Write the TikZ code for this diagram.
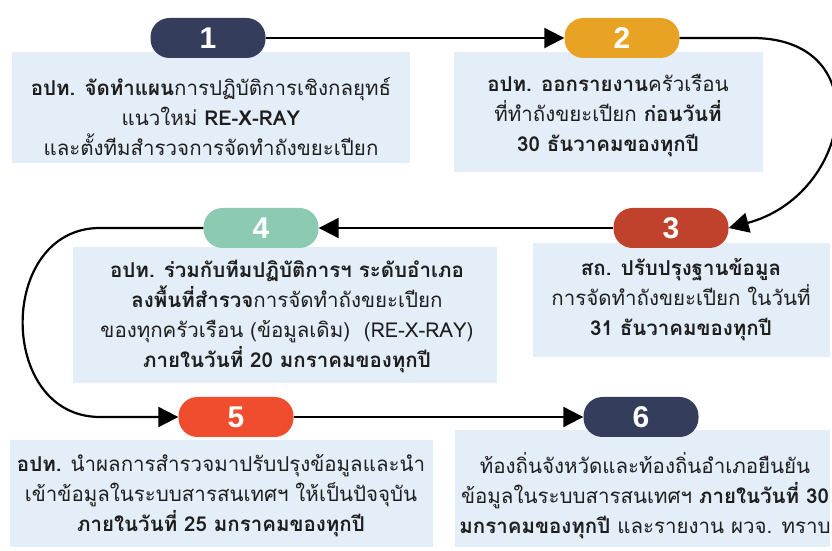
\documentclass[tikz,border=0pt]{standalone}
\usepackage{fontspec}
\setmainfont[Script=Thai]{Loma}
\newfontfamily\numfont{Liberation Sans}
\usetikzlibrary{arrows.meta}
\definecolor{cardblue}{RGB}{228,238,248}
\definecolor{navy}{RGB}{52,61,92}
\definecolor{amber}{RGB}{233,163,36}
\definecolor{rust}{RGB}{192,66,44}
\definecolor{mint}{RGB}{140,202,178}
\definecolor{flame}{RGB}{240,76,46}
\definecolor{ink}{RGB}{30,30,30}
\tikzset{
  pill/.style={rectangle,rounded corners=19pt,minimum width=115pt,minimum height=40pt,
    inner sep=0pt,text=white,font=\numfont\bfseries\fontsize{30}{30}\selectfont},
  card/.style={fill=cardblue,inner sep=0pt},
  txt/.style={align=center,inner sep=0pt,text=ink,font=\fontsize{20.5}{30}\selectfont},
  flow/.style={line width=2.2pt,-{Triangle[length=20pt,width=20pt]}}
}

\begin{document}
\begin{tikzpicture}[x=1pt,y=1pt]
    \useasboundingbox (0,0) rectangle (832,551);

    % cards
    \node[card,minimum width=398pt,minimum height=111pt] (b1) at (211,443.5) {};
    \node[card,minimum width=309pt,minimum height=120pt] (b2) at (608.5,439) {};
    \node[card,minimum width=297pt,minimum height=114pt] (b3) at (681.5,251) {};
    \node[card,minimum width=424pt,minimum height=136pt] (b4) at (285,236) {};
    \node[card,minimum width=423pt,minimum height=107pt] (b5) at (221.5,57.5) {};
    \node[card,minimum width=375pt,minimum height=117pt] (b6) at (642.5,62.5) {};

    \node[txt] (t1) at (211,434) {\textbf{อปท. จัดทำแผน}การปฏิบัติการเชิงกลยุทธ์\\
      แนวใหม่ \textbf{RE-X-RAY}\\และตั้งทีมสำรวจการจัดทำถังขยะเปียก};
    \node[txt] (t2) at (608,435) {\textbf{อปท. ออกรายงาน}ครัวเรือน\\
      ที่ทำถังขยะเปียก \textbf{ก่อนวันที่}\\\textbf{30 ธันวาคมของทุกปี}};
    \node[txt] (t3) at (681,251) {\textbf{สถ. ปรับปรุงฐานข้อมูล}\\
      การจัดทำถังขยะเปียก ในวันที่\\\textbf{31 ธันวาคมของทุกปี}};
    \node[txt] (t4) at (287,235) {\textbf{อปท. ร่วมกับทีมปฏิบัติการฯ ระดับอำเภอ}\\
      \textbf{ลงพื้นที่สำรวจ}การจัดทำถังขยะเปียก\\
      ของทุกครัวเรือน (ข้อมูลเดิม)~~(RE-X-RAY)\\\textbf{ภายในวันที่ 20 มกราคมของทุกปี}};
    \node[txt] (t5) at (221,55) {\textbf{อปท.} นำผลการสำรวจมาปรับปรุงข้อมูลและนำ\\
      เข้าข้อมูลในระบบสารสนเทศฯ ให้เป็นปัจจุบัน\\\textbf{ภายในวันที่ 25 มกราคมของทุกปี}};
    \node[txt] (t6) at (645,55) {ท้องถิ่นจังหวัดและท้องถิ่นอำเภอยืนยัน\\
      ข้อมูลในระบบสารสนเทศฯ \textbf{ภายในวันที่ 30}\\
      \textbf{มกราคมของทุกปี} และรายงาน ผวจ. ทราบ};

    % steps
    \node[pill,fill=navy]  (p1) at (208,513) {1};
    \node[pill,fill=amber] (p2) at (622,513) {2};
    \node[pill,fill=rust]  (p3) at (671,323) {3};
    \node[pill,fill=mint]  (p4) at (261,323) {4};
    \node[pill,fill=flame] (p5) at (236,134) {5};
    \node[pill,fill=navy]  (p6) at (641,134) {6};

    \coordinate (c2) at (752,513);
    \coordinate (c4a) at (100,323);
    \coordinate (c4b) at (100,134);

    \draw[flow] (p1) -- (p2);
    \draw[flow] (p2.east) -- (c2) to[out=0,in=15,looseness=1.7] (p3.east);
    \draw[flow] (p3) -- (p4);
    \draw[flow] (p4.west) -- (c4a) to[out=180,in=180,looseness=1.4] (c4b) -- (p5.west);
    \draw[flow] (p5) -- (p6);
\end{tikzpicture}
\end{document}
